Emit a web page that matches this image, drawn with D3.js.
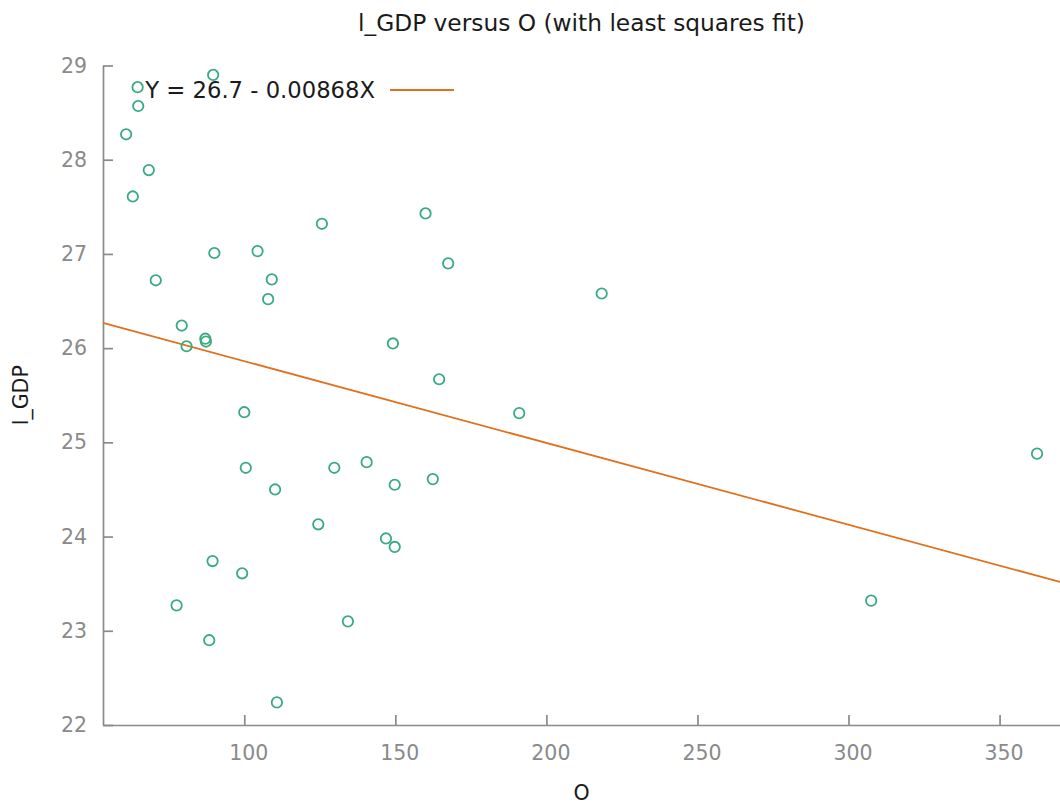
<!DOCTYPE html>
<html>
<head>
<meta charset="utf-8">
<script src="https://cdn.jsdelivr.net/npm/d3@7"></script>
<style>
  html, body { margin: 0; padding: 0; background: #fff; }
  svg { display: block; font-family: "DejaVu Sans", Verdana, sans-serif; }
</style>
</head>
<body>
<svg id="chart" width="1060" height="807"></svg>
<script>
// ---- data ----
const oValues = [64.7, 64.9, 60.9, 89.7, 68.4, 63.1, 90.1, 104.4, 70.7, 109.1,
                 107.9, 79.3, 87.1, 87.3, 80.9, 125.7, 160.0, 167.5, 149.2, 164.5,
                 191.0, 140.5, 149.8, 162.4, 146.9, 149.8, 100.0, 100.5, 129.8, 110.2,
                 124.5, 89.5, 99.3, 77.6, 88.4, 134.3, 110.8, 218.3, 307.5, 362.4];
const lgdpValues = [28.77, 28.57, 28.27, 28.90, 27.89, 27.61, 27.01, 27.03, 26.72, 26.73,
                    26.52, 26.24, 26.10, 26.07, 26.02, 27.32, 27.43, 26.90, 26.05, 25.67,
                    25.31, 24.79, 24.55, 24.61, 23.98, 23.89, 25.32, 24.73, 24.73, 24.50,
                    24.13, 23.74, 23.61, 23.27, 22.90, 23.10, 22.24, 26.58, 23.32, 24.88];
const fitCoef = [26.73, -0.00868];          // intercept, slope
const xTicks = [100, 150, 200, 250, 300, 350];
const yTicks = [22, 23, 24, 25, 26, 27, 28, 29];
const xDomain = [53.24, 370];
const yDomain = [22, 29];
const titleText = "l_GDP versus O (with least squares fit)";
const legendText = "Y = 26.7 - 0.00868X";
const xLabel = "O";
const yLabel = "l_GDP";

// ---- layout ----
const plotL = 103, plotR = 1060, plotT = 65.5, plotB = 725;
const axisColor = "#8a8a8a";
const pointColor = "#3aaa80";
const lineColor = "#e0701e";

const svg = d3.select("#chart");
const x = d3.scaleLinear().domain(xDomain).range([plotL, plotR]);
const y = d3.scaleLinear().domain(yDomain).range([plotB, plotT]);

// title
svg.append("text")
  .attr("x", (plotL + plotR) / 2).attr("y", 31)
  .attr("text-anchor", "middle")
  .attr("font-size", 23.3).attr("fill", "#1a1a1a")
  .text(titleText);

// axes
const yAxis = svg.append("g")
  .attr("transform", `translate(${plotL},0)`)
  .call(d3.axisLeft(y).tickValues(yTicks).tickFormat(d3.format("d"))
        .tickSizeInner(-10).tickSizeOuter(0).tickPadding(16));
const xAxis = svg.append("g")
  .attr("transform", `translate(0,${plotB})`)
  .call(d3.axisBottom(x).tickValues(xTicks).tickFormat(d3.format("d"))
        .tickSizeInner(-10).tickSizeOuter(0).tickPadding(20));

[yAxis, xAxis].forEach(g => {
  g.select(".domain").attr("stroke", axisColor).attr("stroke-width", 1.7);
  g.selectAll(".tick line").attr("stroke", axisColor).attr("stroke-width", 1.7);
  g.selectAll(".tick text").attr("fill", axisColor).attr("font-size", 20.5)
    .attr("font-family", "DejaVu Sans, Verdana, sans-serif");
});
xAxis.selectAll(".tick text").attr("dx", 4);

// axis labels
svg.append("text")
  .attr("x", (plotL + plotR) / 2).attr("y", 800)
  .attr("text-anchor", "middle").attr("font-size", 20.5).attr("fill", "#1a1a1a")
  .text(xLabel);
svg.append("text")
  .attr("transform", `translate(28,${(plotT + plotB) / 2}) rotate(-90)`)
  .attr("text-anchor", "middle").attr("font-size", 20.5).attr("fill", "#1a1a1a")
  .text(yLabel);

// fit line
const fitPts = xDomain.map(v => [v, fitCoef[0] + fitCoef[1] * v]);
svg.append("path")
  .attr("d", d3.line().x(d => x(d[0])).y(d => y(d[1]))(fitPts))
  .attr("fill", "none").attr("stroke", lineColor).attr("stroke-width", 1.8);

// points
svg.append("g").selectAll("circle")
  .data(oValues.map((v, i) => [v, lgdpValues[i]]))
  .join("circle")
  .attr("cx", d => x(d[0])).attr("cy", d => y(d[1]))
  .attr("r", 5.2)
  .attr("fill", "none").attr("stroke", pointColor).attr("stroke-width", 1.8);

// legend
svg.append("text")
  .attr("x", 375).attr("y", 98)
  .attr("text-anchor", "end").attr("font-size", 22.7).attr("fill", "#1a1a1a")
  .attr("xml:space", "preserve")
  .text(legendText);
svg.append("line")
  .attr("x1", 390).attr("x2", 454).attr("y1", 90).attr("y2", 90)
  .attr("stroke", lineColor).attr("stroke-width", 1.8);
</script>
</body>
</html>
